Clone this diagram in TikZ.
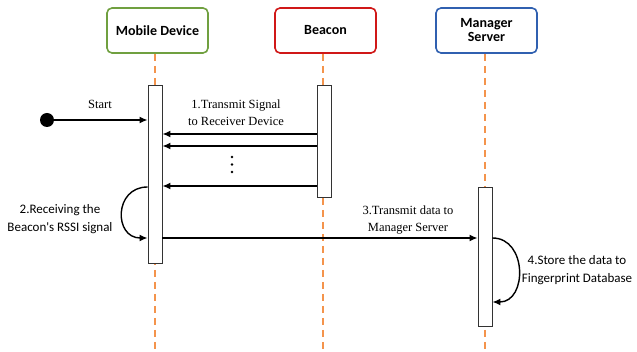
\documentclass[tikz,border=0pt]{standalone}
\usepackage{fontspec}
\setmainfont{Liberation Serif}
\newfontfamily\calib{Carlito}
\usetikzlibrary{arrows.meta}
\definecolor{mgreen}{HTML}{70A040}
\definecolor{mred}{HTML}{D01818}
\definecolor{mblue}{HTML}{3060B0}
\definecolor{lorange}{HTML}{F4944C}
\tikzset{
  head/.style={draw=#1, line width=1.6pt, rounded corners=5pt, minimum width=101pt, minimum height=45pt, align=center, font=\calib\bfseries\fontsize{14}{15}\selectfont},
  actbox/.style={draw=black!80, fill=white, line width=0.9pt, minimum width=14pt, inner sep=0pt},
  life/.style={draw=lorange, line width=1.3pt, dash pattern=on 7pt off 5pt},
  msg/.style={line width=1.4pt, -{Latex[length=8pt,width=7pt]}},
  slab/.style={font=\fontsize{12.5}{17}\selectfont, align=center},
  clab/.style={font=\calib\fontsize{13}{18}\selectfont, align=center}
}
\begin{document}
\begin{tikzpicture}[x=1pt,y=-1pt]
\useasboundingbox (0,0) rectangle (637,352);
\node[head=mgreen] (md) at (157.5,30.5) {Mobile Device};
\node[head=mred] (bc) at (325.5,30.5) {Beacon};
\node[head=mblue] (ms) at (486.5,30.5) {Manager\\[-1pt]Server};
\coordinate (mdend) at (155,352);
\coordinate (bcend) at (323,352);
\coordinate (msend) at (485,352);
\draw[life] (md.south -| mdend) -- (mdend);
\draw[life] (bc.south -| bcend) -- (bcend);
\draw[life] (ms.south -| msend) -- (msend);
\node[actbox, minimum height=178pt] (ma) at (155,174) {};
\node[actbox, minimum height=112pt] (ba) at (324,141) {};
\node[actbox, minimum height=139pt] (sa) at (485,256.5) {};
% start
\node[circle, fill=black, minimum size=14pt, inner sep=0pt] (st) at (47,120) {};
\draw[msg] (st.center) -- (st.center -| ma.west);
\node[slab] (stl) at (100,104) {Start};
% beacon signals
\coordinate (b1) at (0,134);
\coordinate (b2) at (0,146);
\coordinate (b3) at (0,186);
\draw[msg] (b1 -| ba.west) -- (b1 -| ma.east);
\draw[msg] (b2 -| ba.west) -- (b2 -| ma.east);
\draw[msg] (b3 -| ba.west) -- (b3 -| ma.east);
\node[slab] (l1) at (236,113) {1.Transmit Signal\\to Receiver Device};
\node[circle, fill=black, inner sep=0pt, minimum size=2.8pt] (d1) at (232,157) {};
\node[circle, fill=black, inner sep=0pt, minimum size=2.8pt] (d2) at (232,164.5) {};
\node[circle, fill=black, inner sep=0pt, minimum size=2.8pt] (d3) at (232,172) {};
% self 2
\coordinate (s2a) at (0,187);
\coordinate (s2b) at (0,238);
\draw[msg] (s2a -| ma.west) to[out=180, in=180, looseness=1.7] (s2b -| ma.west);
\node[clab] (l2) at (60,219) {2.Receiving the\\Beacon's RSSI signal};
% transmit 3
\draw[msg] (s2b -| ma.east) -- (s2b -| sa.west);
\node[slab] (l3) at (408,220) {3.Transmit data to\\Manager Server};
% self 4
\coordinate (s4b) at (0,302);
\draw[msg] (s2b -| sa.east) to[out=0, in=0, looseness=1.4] (s4b -| sa.east);
\node[clab] (l4) at (577,270) {4.Store the data to\\Fingerprint Database};
\end{tikzpicture}
\end{document}
